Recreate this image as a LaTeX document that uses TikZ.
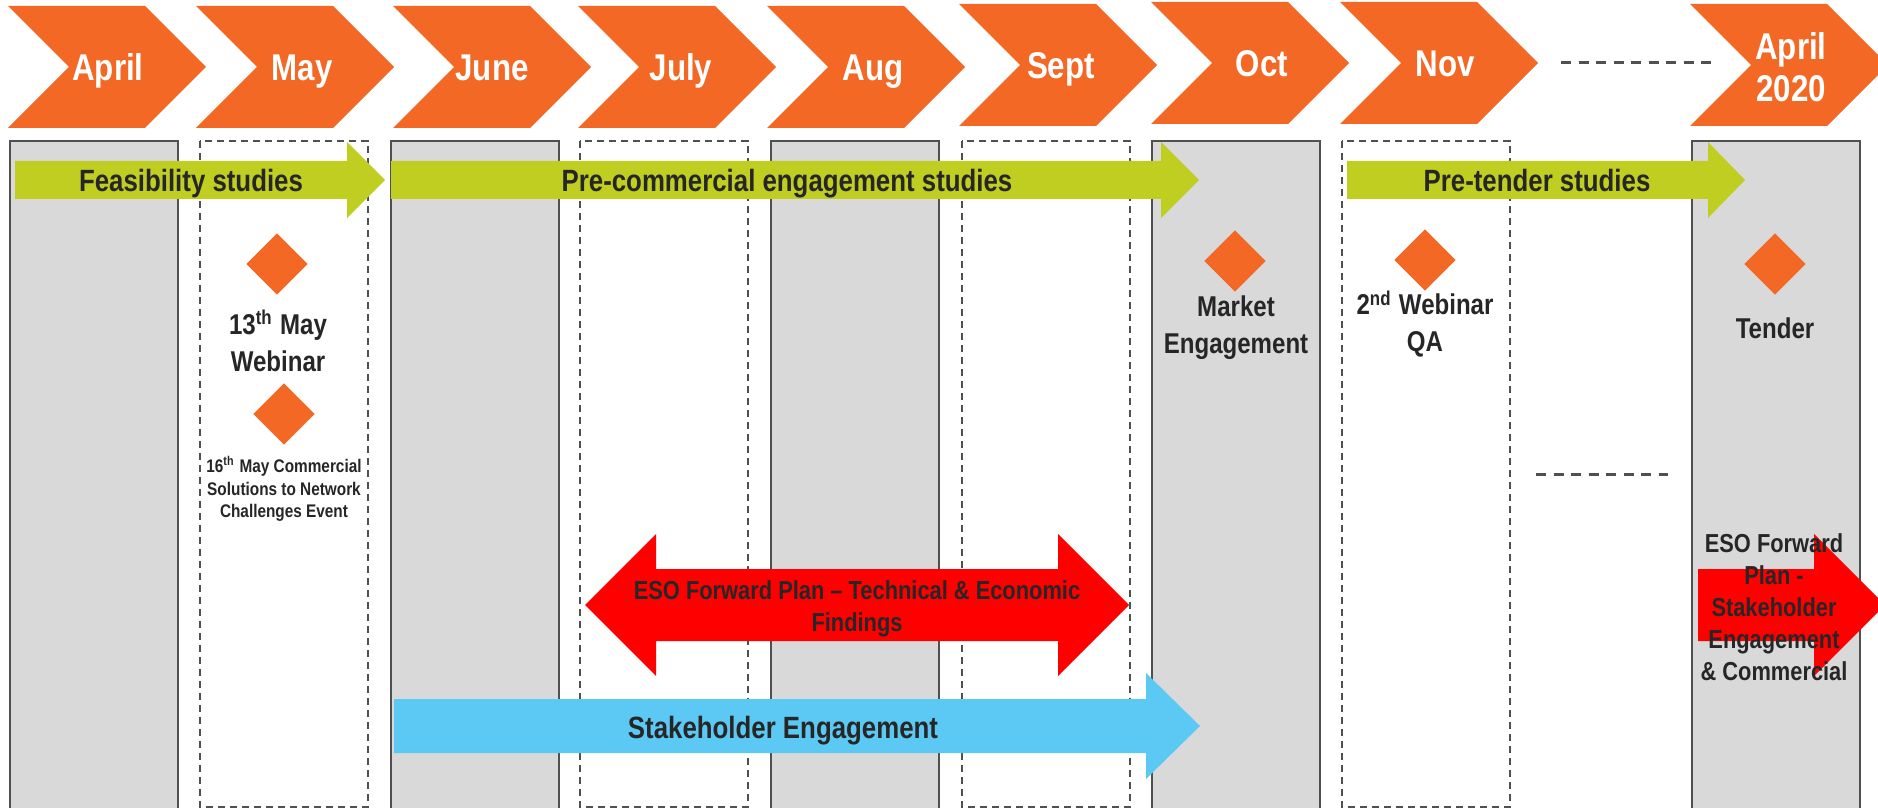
\documentclass[tikz,border=0pt]{standalone}
\usepackage{fontspec}
\setmainfont{Liberation Sans}[FakeStretch=0.84]
\usetikzlibrary{shapes.geometric}

\definecolor{monthorange}{HTML}{F26824}
\definecolor{studygreen}{HTML}{C0CE22}
\definecolor{stakeblue}{HTML}{5BC9F4}
\definecolor{planred}{HTML}{FF0000}
\definecolor{boxgrey}{HTML}{D9D9D9}
\definecolor{boxline}{HTML}{505050}
\definecolor{labeltext}{HTML}{262626}

\begin{document}
\begin{tikzpicture}[x=0.1mm, y=-0.1mm,
   greybox/.style={fill=boxgrey, draw=boxline, line width=0.2mm},
   openbox/.style={draw=boxline, line width=0.15mm, dash pattern=on 0.7mm off 0.5mm},
   monthlabel/.style={text=white, align=center, font=\bfseries\fontsize{10.6}{12}\selectfont},
   studylabel/.style={text=labeltext, font=\bfseries\fontsize{8.75}{10.5}\selectfont},
   eventlabel/.style={text=labeltext, align=center, font=\bfseries\fontsize{8.15}{10.5}\selectfont},
   smalllabel/.style={text=labeltext, align=center, font=\bfseries\fontsize{5.2}{6.4}\selectfont},
   planlabel/.style={text=labeltext, align=center, font=\bfseries\fontsize{7.4}{9.1}\selectfont},
   milestone/.style={diamond, fill=monthorange, minimum size=6.2mm, inner sep=0pt},
   gapline/.style={draw=boxline, line width=0.3mm, dash pattern=on 1mm off 0.75mm}]
   \useasboundingbox (0,0) rectangle (1878,808);
   \clip (0,0) rectangle (1878,808);

   % month columns
   \foreach \x in {10,391,771,1152,1692}
      \draw[greybox] (\x,141) rectangle ++(168,670);
   \foreach \x in {200,580,962,1342}
      \draw[openbox] (\x,141) rectangle ++(168,666);

   % month chevrons
   \foreach \x/\y/\c/\m [count=\i] in {8/6/108/April, 196/6/302/May, 393/6/492/June,
         578/6/681/July, 767/6/873/Aug, 959/4/1061/Sept, 1151/2/1262/Oct, 1340/2/1445/Nov} {
      \fill[monthorange] (\x,\y) -- ++(137,0) -- ++(61,61) -- ++(-61,61) -- ++(-137,0) -- ++(61,-61) -- cycle;
      \node[monthlabel, anchor=base] (m\i) at (\c,\y+75) {\m};
   }
   \fill[monthorange] (1690,4) -- ++(137,0) -- ++(61,61) -- ++(-61,61) -- ++(-137,0) -- ++(61,-61) -- cycle;
   \node[monthlabel] (m9) at (1791,67) {April\\2020};

   \draw[gapline] (1561,63) -- (1716,63);
   \draw[gapline] (1536,474) -- (1668,474);

   % studies
   \fill[studygreen] (15,161) -- (347,161) -- (347,142) -- (385,180) -- (347,218) -- (347,199) -- (15,199) -- cycle;
   \node[studylabel, anchor=base] (feas) at (191,192) {Feasibility studies};
   \fill[studygreen] (391,161) -- (1161,161) -- (1161,142) -- (1199,180) -- (1161,218) -- (1161,199) -- (391,199) -- cycle;
   \node[studylabel, anchor=base] (precom) at (787,192) {Pre-commercial engagement studies};
   \fill[studygreen] (1347,161) -- (1708,161) -- (1708,142) -- (1745,180) -- (1708,218) -- (1708,199) -- (1347,199) -- cycle;
   \node[studylabel, anchor=base] (pretender) at (1537,192) {Pre-tender studies};

   % milestones
   \node[milestone] (d1) at (277,264) {};
   \node[eventlabel] (webinar) at (278,341) {13\textsuperscript{th} May\\Webinar};
   \node[milestone] (d2) at (284,414) {};
   \node[smalllabel] (event) at (284,489) {16\textsuperscript{th} May Commercial\\Solutions to Network\\Challenges Event};
   \node[milestone] (d3) at (1235,261) {};
   \node[eventlabel] (market) at (1236,328) {Market\\Engagement};
   \node[milestone] (d4) at (1425,260) {};
   \node[eventlabel] (webinarqa) at (1425,324) {2\textsuperscript{nd} Webinar\\QA};
   \node[milestone] (d5) at (1775,264) {};
   \node[eventlabel] (tender) at (1775,328) {Tender};

   % forward plan and stakeholders
   \fill[planred] (585,605) -- (656,534) -- (656,569) -- (1058,569) -- (1058,534) -- (1129,605)
      -- (1058,676) -- (1058,641) -- (656,641) -- (656,676) -- cycle;
   \node[planlabel] (eso) at (857,609) {ESO Forward Plan -- Technical \& Economic\\Findings};
   \fill[stakeblue] (394,699) -- (1146,699) -- (1146,673) -- (1200,726) -- (1146,779) -- (1146,753) -- (394,753) -- cycle;
   \node[studylabel, anchor=base] (stake) at (783,738) {Stakeholder Engagement};
   \fill[planred] (1698,569) -- (1814,569) -- (1814,534) -- (1885,605) -- (1814,676) -- (1814,641) -- (1698,641) -- cycle;
   \node[planlabel] (esoplan) at (1774,607) {ESO Forward\\Plan -\\Stakeholder\\Engagement\\\& Commercial};
\end{tikzpicture}
\end{document}
